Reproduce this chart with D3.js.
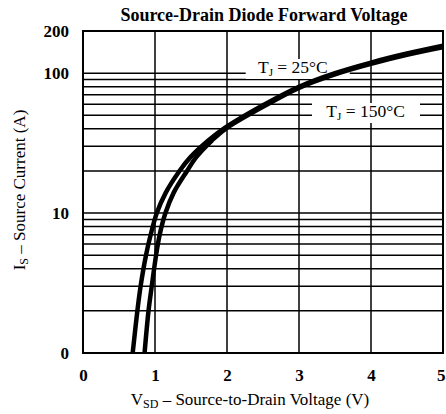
<!DOCTYPE html>
<html>
<head>
<meta charset="utf-8">
<title>Source-Drain Diode Forward Voltage</title>
<style>
  body { margin: 0; background: #fff; }
  text { font-family: "Liberation Serif", "DejaVu Serif", serif; fill: #000; }
</style>
</head>
<body>
<script src="https://cdn.jsdelivr.net/npm/d3@7/dist/d3.min.js"></script>
<script>
// data
var xTicks = [0, 1, 2, 3, 4, 5];
var yGrid = [1, 2, 3, 4, 5, 6, 7, 8, 9, 10, 20, 30, 40, 50, 60, 70, 80, 90, 100];
var yTickValues = [1, 10, 100, 200];
var yTickLabels = ["0", "10", "100", "200"];

// TJ = 150°C (left curve at low current)
var hotV = [0.69, 0.755, 0.80, 0.875, 0.94, 1.025, 1.15, 1.34, 1.49, 1.74, 1.95, 2.5, 3.0, 3.5, 4.0, 4.5, 5.0];
var hotI = [1, 2, 3, 5, 7, 10, 14, 20, 25, 33, 40, 59, 80, 100, 119, 138, 157];
// TJ = 25°C
var coldV = [0.855, 0.91, 0.955, 1.015, 1.065, 1.145, 1.26, 1.445, 1.57, 1.79, 1.98, 2.5, 3.0, 3.5, 4.0, 4.5, 5.0];
var coldI = [1, 2, 3, 5, 7, 10, 14, 20, 25, 33, 40, 57.5, 78.5, 98, 116.5, 135, 153];

var margin = {top: 31, right: 3, bottom: 61, left: 83};
var width = 446, height = 414;
var w = width - margin.left - margin.right;
var h = height - margin.top - margin.bottom;

var x = d3.scaleLinear().domain([0, 5]).range([0, w]);
var y = d3.scaleLog().domain([1, 200]).range([h, 0]);

var svg = d3.select("body").append("svg")
  .attr("width", width)
  .attr("height", height);

var g = svg.append("g")
  .attr("transform", "translate(" + margin.left + "," + margin.top + ")");

// clip for curves
svg.append("defs").append("clipPath").attr("id", "plot")
  .append("rect").attr("width", w).attr("height", h);

// horizontal grid
g.selectAll(".hgrid")
  .data(yGrid)
  .enter().append("line")
  .attr("class", "hgrid")
  .attr("x1", 0).attr("x2", w)
  .attr("y1", function (d) { return y(d); })
  .attr("y2", function (d) { return y(d); })
  .attr("stroke", "#000")
  .attr("stroke-width", 1.5);

// vertical grid
g.selectAll(".vgrid")
  .data(xTicks)
  .enter().append("line")
  .attr("class", "vgrid")
  .attr("y1", 0).attr("y2", h)
  .attr("x1", function (d) { return x(d); })
  .attr("x2", function (d) { return x(d); })
  .attr("stroke", "#000")
  .attr("stroke-width", 1.5);

// frame
g.append("rect")
  .attr("width", w).attr("height", h)
  .attr("fill", "none")
  .attr("stroke", "#000")
  .attr("stroke-width", 2);

// in-plot labels with white backing
function tjLabel(tx, ty, temp, bx, bw) {
  g.append("rect")
    .attr("x", bx).attr("y", ty - 14)
    .attr("width", bw).attr("height", 20)
    .attr("fill", "#fff");
  var t = g.append("text")
    .attr("x", tx).attr("y", ty)
    .style("font-size", "17.5px");
  t.append("tspan").text("T");
  t.append("tspan").attr("dy", 3).style("font-size", "11px").text("J");
  t.append("tspan").attr("dy", -3).text(" = " + temp);
}
tjLabel(x(2.43), 42, "25°C", x(2.26), 104);
tjLabel(x(3.38), 86, "150°C", x(3.18), 108);

// curves
var line = d3.line()
  .x(function (d) { return x(d[0]); })
  .y(function (d) { return y(d[1]); })
  .curve(d3.curveCatmullRom.alpha(0.5));

var curves = g.append("g").attr("clip-path", "url(#plot)");
curves.append("path")
  .datum(d3.zip(hotV, hotI))
  .attr("d", line)
  .attr("fill", "none")
  .attr("stroke", "#000")
  .attr("stroke-width", 4.5);
curves.append("path")
  .datum(d3.zip(coldV, coldI))
  .attr("d", line)
  .attr("fill", "none")
  .attr("stroke", "#000")
  .attr("stroke-width", 4.5);

// x axis tick labels
var xAxis = g.append("g")
  .attr("transform", "translate(0," + h + ")")
  .call(d3.axisBottom(x).tickValues(xTicks).tickSize(0).tickPadding(16).tickFormat(d3.format("d")));
xAxis.select(".domain").remove();
xAxis.selectAll("text")
  .style("font-family", "'Liberation Serif', serif")
  .style("font-size", "17px")
  .style("font-weight", "bold");
// last label sits at the window edge
xAxis.selectAll(".tick").filter(function (d) { return d === 5; })
  .select("text").attr("text-anchor", "end").attr("dx", 2);

// y axis tick labels
var yAxis = g.append("g")
  .call(d3.axisLeft(y).tickValues(yTickValues).tickSize(0).tickPadding(14)
    .tickFormat(function (d, i) { return yTickLabels[i]; }));
yAxis.select(".domain").remove();
yAxis.selectAll("text")
  .style("font-family", "'Liberation Serif', serif")
  .style("font-size", "17px")
  .style("font-weight", "bold");

// title
svg.append("text")
  .attr("x", 264).attr("y", 21)
  .attr("text-anchor", "middle")
  .style("font-size", "18px")
  .style("font-weight", "bold")
  .text("Source-Drain Diode Forward Voltage");

// x axis label
var xl = svg.append("text")
  .attr("x", 250).attr("y", 405)
  .attr("text-anchor", "middle")
  .style("font-size", "17px");
xl.append("tspan").text("V");
xl.append("tspan").attr("dy", 3).style("font-size", "12px").text("SD");
xl.append("tspan").attr("dy", -3).text("  \u2013  Source-to-Drain Voltage (V)");

// y axis label
var yl = svg.append("text")
  .attr("transform", "translate(25,190) rotate(-90)")
  .attr("text-anchor", "middle")
  .style("font-size", "17px");
yl.append("tspan").text("I");
yl.append("tspan").attr("dy", 3).style("font-size", "12px").text("S");
yl.append("tspan").attr("dy", -3).text("  \u2013  Source Current (A)");
</script>
</body>
</html>
